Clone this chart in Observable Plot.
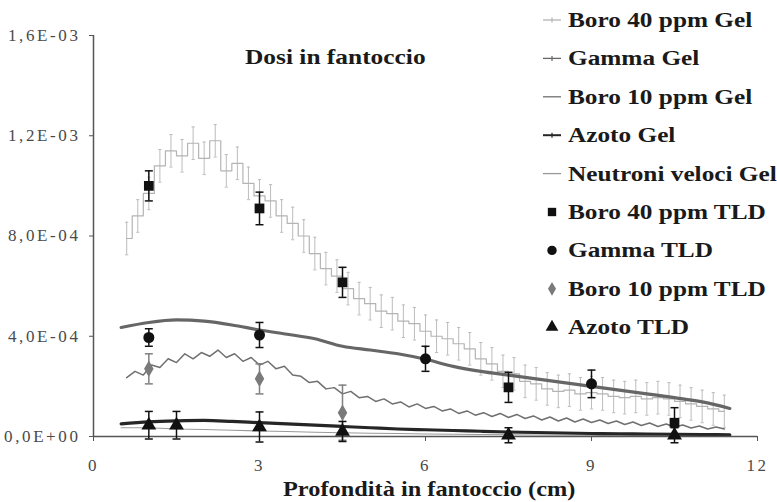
<!DOCTYPE html>
<html>
<head>
<meta charset="utf-8">
<script src="https://cdn.jsdelivr.net/npm/d3@7"></script>
<script src="https://cdn.jsdelivr.net/npm/@observablehq/plot@0.6"></script>
<style>
  html, body { margin: 0; padding: 0; background: #fff; }
  #wrap { position: relative; width: 777px; height: 502px; overflow: hidden; }
  #overlay { position: absolute; left: 0; top: 0; pointer-events: none; }
</style>
</head>
<body>
<div id="wrap"></div>
<script>
// Dose values are expressed in units of 1E-04 (Gy per monitor unit).
const xTicks = [0, 3, 6, 9, 12];
const yTicks = [0, 4, 8, 12, 16];
const yTickLabels = ["0,0E+00", "4,0E-04", "8,0E-04", "1,2E-03", "1,6E-03"];
const serif = "'Liberation Serif', 'Times New Roman', serif";

// Gel profiles, sampled on a regular depth grid (cm)
const boro40GelStart = 0.6, boro40GelStep = 0.2;
const boro40GelDose = [
  7.9, 8.8, 9.7, 10.8, 11.4, 11.2, 11.7, 11.1, 11.8, 10.6,
  10.9, 10.1, 9.6, 9.4, 8.8, 8.5, 8.0, 7.3, 6.7, 6.4,
  5.9, 5.5, 5.3, 5.0, 4.9, 4.6, 4.5, 4.2, 4.0, 3.9,
  3.7, 3.5, 3.1, 2.9, 2.6, 2.5, 2.2, 2.1, 1.9, 1.8,
  1.85, 1.7, 1.75, 1.7, 1.6, 1.55, 1.6, 1.5, 1.55, 1.5,
  1.4, 1.3, 1.2, 1.1, 1.0
];
const boro40GelErr = 0.65;

const boro10GelStart = 0.6, boro10GelStep = 0.15;
const boro10GelDose = [
  2.35, 2.6, 2.45, 2.85, 2.75, 3.1, 2.95, 3.3, 3.1, 3.35,
  3.2, 3.45, 3.15, 3.3, 3.0, 3.15, 2.85, 3.0, 2.7, 2.8,
  2.45, 2.4, 2.15, 2.2, 1.9, 1.95, 1.7, 1.8, 1.55, 1.6,
  1.4, 1.5, 1.3, 1.38, 1.18, 1.3, 1.12, 1.2, 1.02, 1.1,
  0.92, 1.02, 0.85, 0.95, 0.8, 0.92, 0.76, 0.88, 0.72, 0.82,
  0.66, 0.78, 0.62, 0.74, 0.58, 0.7, 0.56, 0.66, 0.52, 0.62,
  0.48, 0.58, 0.44, 0.54, 0.4, 0.5, 0.38, 0.46, 0.34, 0.42,
  0.3, 0.38, 0.3
];

const gammaGelDepth = [0.5, 1.0, 1.5, 2.0, 2.5, 3.0, 3.5, 4.0, 4.5, 5.0, 5.5, 6.0, 6.5, 7.0, 7.5, 8.0, 8.5, 9.0, 9.5, 10.0, 10.5, 11.0, 11.5];
const gammaGelDose  = [4.35, 4.55, 4.65, 4.6, 4.45, 4.25, 4.08, 3.9, 3.6, 3.45, 3.3, 3.08, 2.8, 2.6, 2.45, 2.3, 2.15, 2.0, 1.85, 1.7, 1.55, 1.38, 1.12];

const azotoGelDepth = [0.5, 1.0, 1.5, 2.0, 2.5, 3.0, 3.5, 4.0, 4.5, 5.0, 5.5, 6.0, 6.5, 7.0, 7.5, 8.0, 8.5, 9.0, 9.5, 10.0, 10.5, 11.0, 11.5];
const azotoGelDose  = [0.5, 0.58, 0.62, 0.64, 0.6, 0.55, 0.5, 0.45, 0.4, 0.35, 0.3, 0.27, 0.24, 0.21, 0.18, 0.16, 0.14, 0.12, 0.11, 0.1, 0.09, 0.08, 0.07];

const neutroniGelDepth = [0.5, 1.0, 1.5, 2.0, 2.5, 3.0, 3.5, 4.0, 4.5, 5.0, 5.5, 6.0, 7.0, 8.0, 9.0, 10.0, 11.0, 11.5];
const neutroniGelDose  = [0.35, 0.35, 0.3, 0.28, 0.25, 0.22, 0.2, 0.17, 0.15, 0.13, 0.12, 0.1, 0.08, 0.06, 0.05, 0.04, 0.03, 0.03];

// TLD measurements: depth, dose, uncertainty
const boro40TldDepth = [1, 3, 4.5, 7.5, 10.5];
const boro40TldDose  = [10.0, 9.1, 6.15, 1.96, 0.55];
const boro40TldErr   = [0.6, 0.65, 0.6, 0.6, 0.6];

const gammaTldDepth = [1, 3, 6, 9];
const gammaTldDose  = [3.95, 4.05, 3.1, 2.1];
const gammaTldErr   = [0.35, 0.5, 0.5, 0.55];

const boro10TldDepth = [1, 3, 4.5];
const boro10TldDose  = [2.7, 2.3, 0.95];
const boro10TldErr   = [0.6, 0.6, 1.1];

const azotoTldDepth = [1, 1.5, 3, 4.5, 7.5, 10.5];
const azotoTldDose  = [0.45, 0.45, 0.38, 0.2, 0.05, 0.05];
const azotoTldErr   = [0.55, 0.55, 0.6, 0.4, 0.3, 0.3];

// ---- tables ----
const grid = (start, step, vals) => vals.map((y, i) => ({x: +(start + i * step).toFixed(3), y}));
const pairs = (xs, ys, es) => xs.map((x, i) => ({x, y: ys[i], e: es ? es[i] : 0}));

const boro40Gel = grid(boro40GelStart, boro40GelStep, boro40GelDose).map(d => ({...d, e: boro40GelErr}));
const boro10Gel = grid(boro10GelStart, boro10GelStep, boro10GelDose);
const gammaGel = pairs(gammaGelDepth, gammaGelDose);
const azotoGel = pairs(azotoGelDepth, azotoGelDose);
const neutroniGel = pairs(neutroniGelDepth, neutroniGelDose);
const boro40Tld = pairs(boro40TldDepth, boro40TldDose, boro40TldErr);
const gammaTld = pairs(gammaTldDepth, gammaTldDose, gammaTldErr);
const boro10Tld = pairs(boro10TldDepth, boro10TldDose, boro10TldErr);
const azotoTld = pairs(azotoTldDepth, azotoTldDose, azotoTldErr);

// horizontal cap used at both ends of error bars
const capSymbol = {
  draw(context, size) {
    const w = Math.sqrt(size) / 2;
    context.moveTo(-w, 0);
    context.lineTo(w, 0);
  }
};

function errorBars(data, color, width, capR) {
  return [
    Plot.ruleX(data, {x: "x", y1: d => d.y - d.e, y2: d => d.y + d.e, stroke: color, strokeWidth: width}),
    Plot.dot(data, {x: "x", y: d => d.y - d.e, symbol: capSymbol, r: capR, fill: "none", stroke: color, strokeWidth: width}),
    Plot.dot(data, {x: "x", y: d => d.y + d.e, symbol: capSymbol, r: capR, fill: "none", stroke: color, strokeWidth: width})
  ];
}

const chart = Plot.plot({
  width: 777,
  height: 502,
  marginLeft: 93,
  marginRight: 20,
  marginTop: 35,
  marginBottom: 66,
  style: {fontFamily: serif, background: "#fff"},
  x: {domain: [0, 12]},
  y: {domain: [0, 16]},
  marks: [
    Plot.axisY({ticks: yTicks, tickFormat: (d, i) => yTickLabels[i], tickSize: 4, tickPadding: 9, fontSize: 17, fill: "#4a4a4a", stroke: "#555", label: null}),
    Plot.axisX({ticks: xTicks, tickFormat: d => String(d), tickSize: 5, tickPadding: 17, fontSize: 17, fill: "#4a4a4a", stroke: "#555", label: null}),

    // Boro 40 ppm Gel: step profile with error bars
    ...errorBars(boro40Gel, "#bcbcbc", 1, 1.8),
    Plot.line(boro40Gel, {x: "x", y: "y", curve: "step", stroke: "#b4b4b4", strokeWidth: 1.2}),

    Plot.line(neutroniGel, {x: "x", y: "y", stroke: "#9a9a9a", strokeWidth: 1.2}),
    Plot.line(boro10Gel, {x: "x", y: "y", stroke: "#707070", strokeWidth: 1.5}),
    Plot.line(gammaGel, {x: "x", y: "y", stroke: "#666", strokeWidth: 3.2, curve: "monotone-x"}),
    Plot.line(azotoGel, {x: "x", y: "y", stroke: "#262626", strokeWidth: 3.2, curve: "monotone-x"}),

    // axis lines
    Plot.ruleX([0], {stroke: "#555", strokeWidth: 1.5}),
    Plot.ruleY([0], {stroke: "#555", strokeWidth: 1.5}),

    // TLD points
    ...errorBars(boro10Tld, "#808080", 1.5, 4.5),
    Plot.dot(boro10Tld, {x: "x", y: "y", symbol: "diamond", r: 5, fill: "#7a7a7a"}),
    ...errorBars(azotoTld, "#111", 1.5, 4.5),
    Plot.dot(azotoTld, {x: "x", y: "y", symbol: "triangle", r: 5.5, fill: "#111"}),
    ...errorBars(gammaTld, "#111", 1.5, 4.5),
    Plot.dot(gammaTld, {x: "x", y: "y", symbol: "circle", r: 5.5, fill: "#111"}),
    ...errorBars(boro40Tld, "#111", 1.5, 4.5),
    Plot.dot(boro40Tld, {x: "x", y: "y", symbol: "square", r: 5.5, fill: "#111"})
  ]
});

// wider set tick labels, serif face
d3.select(chart).selectAll("text")
  .attr("font-family", serif)
  .style("letter-spacing", "2.6px");

const wrap = document.getElementById("wrap");
wrap.appendChild(chart);

// ---- title, axis title and legend ----
const overlay = d3.select(wrap).append("svg")
  .attr("id", "overlay")
  .attr("width", 777).attr("height", 502);

function label(text, x, y, size, sx) {
  overlay.append("text")
    .attr("transform", `translate(${x},${y}) scale(${sx},1)`)
    .attr("font-family", serif)
    .attr("font-weight", "bold")
    .attr("fill", "#1a1a1a")
    .attr("font-size", size)
    .text(text);
}

label("Dosi in fantoccio", 245, 64, 21, 1.21);
label("Profondità in fantoccio (cm)", 283, 496, 21, 1.16);

const legendNames = [
  "Boro 40 ppm Gel", "Gamma Gel", "Boro 10 ppm Gel", "Azoto Gel", "Neutroni veloci Gel",
  "Boro 40 ppm TLD", "Gamma TLD", "Boro 10 ppm TLD", "Azoto TLD"
];
const legendKinds = ["line", "line", "line", "line", "line", "square", "circle", "diamond", "triangle"];
const legendColors = ["#b4b4b4", "#666", "#707070", "#262626", "#9a9a9a", "#111", "#111", "#7a7a7a", "#111"];
const legendTick = [true, true, false, true, false];

legendNames.forEach((name, i) => {
  const base = 27 + i * 38.4;
  const cy = base - 7;
  const g = overlay.append("g");
  const kind = legendKinds[i];
  const col = legendColors[i];
  if (kind === "line") {
    g.append("line").attr("x1", 543).attr("x2", 561).attr("y1", cy).attr("y2", cy)
      .attr("stroke", col).attr("stroke-width", i === 3 ? 2 : 1.3);
    if (legendTick[i]) {
      g.append("line").attr("x1", 552).attr("x2", 552).attr("y1", cy - 2.5).attr("y2", cy + 2.5)
        .attr("stroke", col).attr("stroke-width", 1.2);
    }
  } else {
    const sym = {square: d3.symbolSquare, circle: d3.symbolCircle, diamond: d3.symbolDiamond, triangle: d3.symbolTriangle}[kind];
    g.append("path").attr("d", d3.symbol(sym, kind === "diamond" ? 55 : 70)())
      .attr("transform", `translate(552,${cy})`).attr("fill", col);
  }
  label(name, 568, base, 22, 1.15);
});
</script>
</body>
</html>
